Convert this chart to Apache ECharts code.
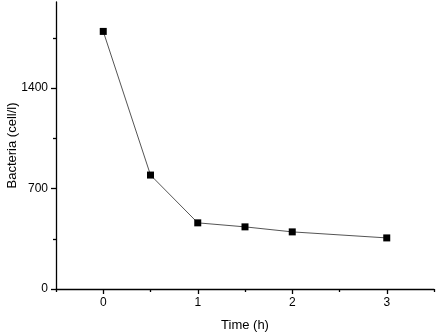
<!DOCTYPE html>
<html>
<head>
<meta charset="utf-8">
<script src="https://cdn.jsdelivr.net/npm/echarts@6/dist/echarts.min.js"></script>
<style>
html,body{margin:0;padding:0;background:#fff;}
#chart{width:438px;height:335px;}
</style>
</head>
<body>
<div id="chart"></div>
<script>
// data
var times = [0, 0.5, 1, 1.5, 2, 3];
var bacteria = [1795, 794, 461, 433, 398, 356];
var xMajorTicks = [0, 1, 2, 3];
var xMinorTicks = [-0.5, 0.5, 1.5, 2.5, 3.5];
var yMajorTicks = [0, 700, 1400];
var yMinorTicks = [350, 1050, 1750];

var points = [];
for (var i = 0; i < times.length; i++) {
	points.push([times[i], bacteria[i]]);
}

var font = 'Liberation Sans, Arial, sans-serif';
var axisLine = {show: true, onZero: false, lineStyle: {color: '#000', width: 1.3}};
var plain = function(v) { return String(v); };

var myChart = echarts.init(document.getElementById('chart'));
var option = {
	backgroundColor: '#fff',
	animation: false,
	grid: {left: 56, top: 2, right: 4, bottom: 46, containLabel: false, outerBoundsMode: 'none'},
	xAxis: [
		{
			type: 'value', min: -0.5, max: 3.5,
			name: 'Time (h)', nameLocation: 'middle', nameGap: 30,
			nameTextStyle: {fontFamily: font, fontSize: 13, color: '#000'},
			axisLine: axisLine,
			axisTick: {show: true, length: 5, customValues: xMajorTicks, lineStyle: {color: '#000', width: 1.3}},
			axisLabel: {show: true, customValues: xMajorTicks, formatter: plain, margin: 8, fontFamily: font, fontSize: 12, color: '#000'},
			splitLine: {show: false}
		},
		// minor ticks
		{
			type: 'value', min: -0.5, max: 3.5, position: 'bottom',
			axisLine: {show: false, onZero: false},
			axisTick: {show: true, length: 3, customValues: xMinorTicks, lineStyle: {color: '#000', width: 1.3}},
			axisLabel: {show: false},
			splitLine: {show: false}
		}
	],
	yAxis: [
		{
			type: 'value', min: 0, max: 2000,
			name: 'Bacteria (cell/l)', nameLocation: 'middle', nameGap: 37, nameMoveOverlap: false,
			nameTextStyle: {fontFamily: font, fontSize: 13, color: '#000'},
			axisLine: axisLine,
			axisTick: {show: true, length: 5, customValues: yMajorTicks, lineStyle: {color: '#000', width: 1.3}},
			axisLabel: {show: true, customValues: yMajorTicks, formatter: plain, margin: 8, fontFamily: font, fontSize: 12, color: '#000'},
			splitLine: {show: false}
		},
		// minor ticks
		{
			type: 'value', min: 0, max: 2000, position: 'left', offset: 0,
			axisLine: {show: false, onZero: false},
			axisTick: {show: true, length: 3, customValues: yMinorTicks, lineStyle: {color: '#000', width: 1.3}},
			axisLabel: {show: false},
			splitLine: {show: false}
		}
	],
	series: [{
		type: 'line',
		data: points,
		xAxisIndex: 0, yAxisIndex: 0,
		symbol: 'rect', symbolSize: 7,
		itemStyle: {color: '#000'},
		lineStyle: {color: '#555', width: 1}
	}]
};
myChart.setOption(option);
</script>
</body>
</html>
